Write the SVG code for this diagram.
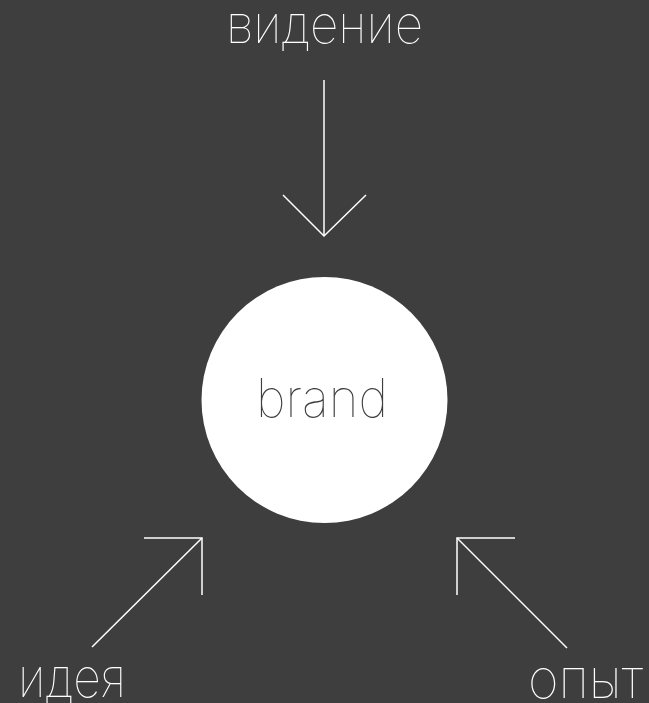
<svg xmlns="http://www.w3.org/2000/svg" width="649" height="703" viewBox="0 0 649 703">
<style>
.lbl{font-family:Inter,"Liberation Sans",sans-serif;font-weight:100;fill:#ffffff;text-anchor:middle}
.ln{stroke:#ffffff;stroke-width:1.5;fill:none;stroke-linecap:butt;stroke-linejoin:miter}
</style>
<rect width="649" height="703" fill="#3e3e3e"/>
<g id="connectors">
<path class="ln" d="M324 80V236"/>
<path class="ln" d="M283 195L324 236L366 195"/>
<path class="ln" d="M92 647L202 538"/>
<path class="ln" d="M144 538H202V595"/>
<path class="ln" d="M567 648L457 538"/>
<path class="ln" d="M515 538H457V595"/>
</g>
<g id="brand">
<circle cx="324.5" cy="400" r="123" fill="#ffffff"/>
<text class="lbl" x="322" y="417" font-size="53" style="fill:#3e3e3e" textLength="132" lengthAdjust="spacingAndGlyphs">brand</text>
</g>
<g id="videnie"><text class="lbl" x="324.5" y="43" font-size="52" textLength="197" lengthAdjust="spacingAndGlyphs">видение</text></g>
<g id="ideya"><text class="lbl" x="72" y="697" font-size="55" textLength="108" lengthAdjust="spacingAndGlyphs">идея</text></g>
<g id="opyt"><text class="lbl" x="585.5" y="698" font-size="55" textLength="115" lengthAdjust="spacingAndGlyphs">опыт</text></g>
</svg>
